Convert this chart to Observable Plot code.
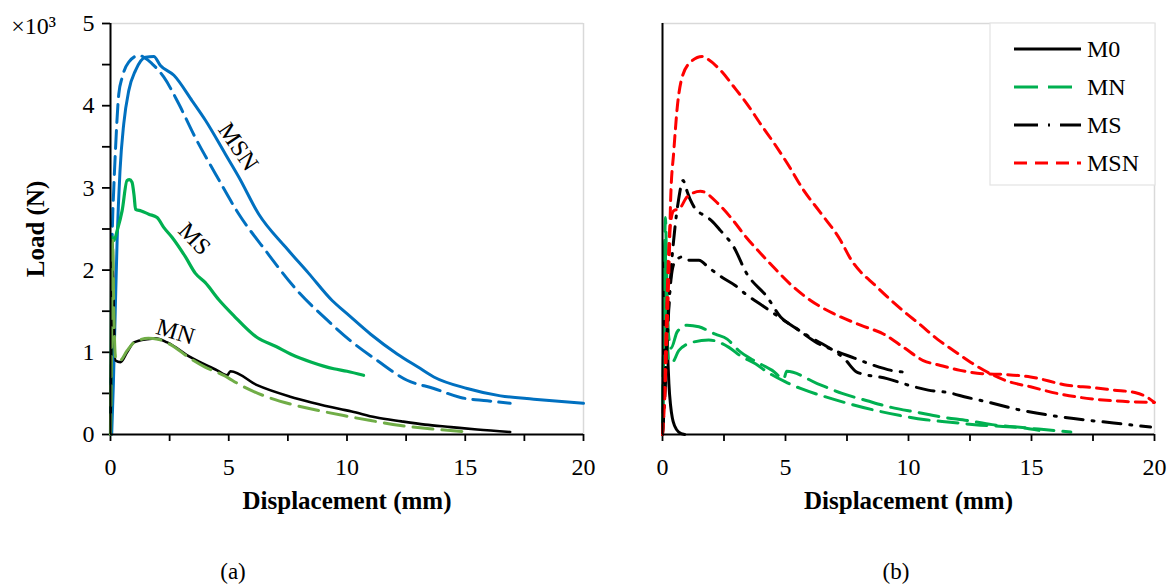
<!DOCTYPE html>
<html><head><meta charset="utf-8">
<script src="https://cdn.jsdelivr.net/npm/d3@7"></script>
<script src="https://cdn.jsdelivr.net/npm/@observablehq/plot@0.6"></script>
<style>
body{margin:0;background:#fff;}
#wrap{position:relative;width:1175px;height:586px;overflow:hidden;font-family:"Liberation Serif","Times New Roman",serif;color:#000;}
#wrap > svg{position:absolute;top:0;}
.cap{position:absolute;font-size:23px;transform:translate(-50%,-50%);white-space:nowrap;}
</style></head><body><div id="wrap"></div>
<script>
// ---------- data (displacement mm, load ×10^3 N) ----------
// panel (a)
const msnSolidX = [0.05,0.12,0.2,0.28,0.4,0.56,0.77,1.06,1.48,1.83,2.11,2.68,3.45,4.02,4.86,5.43,6.27,7.4,8.38,9.37,10.0,11.0,12.12,13.0,13.67,15.08,16.49,17.9,20];
const msnSolidY = [0,0.6,1.5,2.36,3.2,3.78,4.18,4.43,4.59,4.6,4.49,4.37,4.06,3.82,3.41,3.13,2.68,2.28,1.96,1.63,1.47,1.22,0.98,0.82,0.70,0.56,0.47,0.43,0.38];
const msnDashX = [0,0.04,0.07,0.14,0.21,0.35,0.5,0.77,1.2,1.76,2.25,2.89,3.59,4.44,5.43,6.55,7.96,9.02,10.15,11.28,12.54,13.67,14.8,15.93,16.9];
const msnDashY = [0,1.0,2.36,3.0,3.46,4.14,4.35,4.53,4.61,4.51,4.35,4.02,3.61,3.17,2.68,2.24,1.73,1.43,1.14,0.9,0.66,0.56,0.45,0.41,0.38];
const msX = [0,0.03,0.07,0.14,0.3,0.49,0.7,0.8,0.91,1.0,1.06,1.3,1.62,1.97,2.25,2.6,3.17,3.59,4.0,4.58,5.2,6.2,7.0,7.61,8.5,9.44,10.0,10.7];
const msY = [0,1.2,2.4,2.36,2.5,2.72,3.09,3.1,3.07,2.9,2.74,2.72,2.68,2.64,2.52,2.4,2.16,1.96,1.85,1.64,1.45,1.18,1.07,0.98,0.88,0.8,0.77,0.72];
const mnSolidX = [0,0.04,0.08,0.13,0.21,0.42,0.7,0.99,1.55,1.9,2.4,3.38,4.51,4.93,5.07,6.2,7.6,8.5,9.7,10.2,11.2,12.3,13.3,14.4,15.5,16.9];
const mnSolidY = [0,1.2,2.36,1.6,0.9,0.88,1.0,1.12,1.16,1.17,1.12,0.94,0.78,0.72,0.77,0.6,0.46,0.39,0.31,0.28,0.21,0.16,0.12,0.09,0.06,0.03];
const mnDashX = [0,0.04,0.09,0.14,0.22,0.4,0.7,1.0,1.6,2.0,2.5,3.4,4.0,4.79,5.5,6.5,7.61,8.5,9.86,11.0,12.26,13.5,15.2];
const mnDashY = [0,1.0,2.36,1.5,0.92,0.9,1.02,1.12,1.17,1.16,1.1,0.92,0.82,0.72,0.6,0.47,0.37,0.31,0.23,0.17,0.11,0.07,0.03];
// panel (b)
const m0X = [0,0.05,0.1,0.15,0.2,0.26,0.33,0.4,0.5,0.66,0.9];
const m0Y = [0,1.2,2.3,1.8,1.1,0.62,0.35,0.2,0.1,0.03,0];
const mnAX = [0,0.06,0.12,0.18,0.25,0.35,0.6,1.0,1.48,2.15,2.63,3.1,3.71,4.46,4.93,5.05,6.29,7.3,8.32,9.3,10.35,11.4,12.38,13.4,14.42,15.5,16.6];
const mnAY = [0,1.5,2.64,1.8,1.2,1.05,1.25,1.33,1.31,1.22,1.16,1.02,0.9,0.78,0.68,0.77,0.62,0.5,0.41,0.33,0.27,0.21,0.17,0.12,0.09,0.06,0.03];
const mnBX = [0,0.05,0.1,0.16,0.25,0.4,0.66,1.2,1.88,2.7,3.2,3.78,4.26,5.0,5.61,6.6,7.64,8.7,9.67,10.7,11.7,12.7,13.7,14.7,15.3];
const mnBY = [0,1.2,2.35,1.5,0.9,0.88,1.02,1.12,1.15,1.06,0.95,0.86,0.76,0.64,0.56,0.46,0.37,0.29,0.23,0.18,0.15,0.12,0.1,0.08,0.05];
const msAX = [0,0.1,0.2,0.35,0.5,0.65,0.84,0.95,1.14,1.4,1.61,2.0,2.36,2.9,3.4,4.26,4.8,5.4,6.2,7.0,7.8,8.5,9.3,9.8];
const msAY = [0,0.5,1.2,2.0,2.5,2.85,3.09,3.0,2.85,2.72,2.68,2.6,2.48,2.28,1.97,1.67,1.43,1.3,1.13,1.02,0.93,0.85,0.78,0.76];
const msBX = [0,0.1,0.2,0.35,0.5,0.8,1.1,1.48,1.88,2.43,2.97,3.37,4.1,4.93,6.02,6.8,7.4,7.9,9.13,10.0,10.8,11.6,12.4,13.0,14.5,16.3,18.34,19.84];
const msBY = [0,0.6,1.3,1.9,2.1,2.16,2.12,2.12,2.03,1.91,1.81,1.71,1.56,1.39,1.18,1.05,0.92,0.76,0.68,0.6,0.54,0.51,0.45,0.41,0.3,0.21,0.14,0.09];
const msnAX = [0,0.1,0.2,0.28,0.33,0.46,0.6,0.8,1.14,1.61,1.82,2.36,2.9,3.44,3.98,4.52,5.07,5.74,6.42,7.24,7.64,8.73,9.8,10.5,11.17,11.84,12.52,13.2,14.01,14.96,16.04,17.0,18.35,19.97];
const msnAY = [0,0.5,1.4,2.2,2.85,3.45,3.98,4.35,4.53,4.6,4.57,4.43,4.23,4.02,3.78,3.55,3.3,2.97,2.7,2.36,2.14,1.79,1.5,1.33,1.16,1.02,0.88,0.76,0.65,0.58,0.5,0.45,0.41,0.39];
const msnBX = [0,0.1,0.2,0.3,0.45,0.7,1.0,1.54,2.29,2.83,3.4,4.0,4.5,5.34,6.02,6.96,8.05,9.0,9.8,10.6,11.3,12.1,13.0,13.9,14.96,16.45,17.5,18.35,19.2,19.6,20];
const msnBY = [0,0.8,1.8,2.5,2.72,2.75,2.89,2.96,2.8,2.62,2.4,2.2,2.04,1.79,1.63,1.47,1.33,1.22,1.06,0.9,0.84,0.78,0.74,0.73,0.7,0.6,0.57,0.54,0.51,0.47,0.39];

// axes / labels
const xTicks = [0,2.5,5,7.5,10,12.5,15,17.5,20];
const yTicks = [0,0.5,1,1.5,2,2.5,3,3.5,4,4.5,5];
const legendNames = ["M0","MN","MS","MSN"];
const annotNames = ["MSN","MS","MN"];
const annotX = [5.4,3.55,2.75];
const annotY = [3.5,2.38,1.25];
const annotRot = [56,46,17];

// ---------- drawing ----------
const pts = (xs, ys) => xs.map((x, i) => ({x, y: ys[i]}));
const FONT = "Liberation Serif, Times New Roman, serif";
const wrap = document.getElementById("wrap");
const CURVE = "monotone-x";
const H = 535, MT = 23, MB = 101;
const innerH = H - MT - MB;            // px for 5 units

function frameMarks(showY, innerW) {
  const xTickLen = 7 * 5 / innerH;      // 7 px expressed in y units
  const yTickLen = 8 * 20 / innerW;     // 8 px expressed in x units
  const m = [
    Plot.ruleY([5], {stroke: "#d9d9d9", strokeWidth: 1.5}),
    Plot.ruleX([20], {stroke: "#d9d9d9", strokeWidth: 1.5}),
    Plot.ruleX(xTicks, {x: d => d, y1: 0, y2: -xTickLen, stroke: "#000", strokeWidth: 1.8}),
    Plot.axisX({ticks: xTicks, tickSize: 0, tickPadding: 23, fontSize: 24,
      tickFormat: d => d % 5 === 0 ? String(d) : "", label: null}),
    Plot.text(["Displacement (mm)"], {text: d => d, frameAnchor: "bottom", textAnchor: "middle", dy: 74, fontWeight: "bold", fontSize: 25})
  ];
  if (showY) {
    m.push(Plot.ruleY(yTicks, {y: d => d, x1: 0, x2: -yTickLen, stroke: "#000", strokeWidth: 1.8}));
    m.push(Plot.axisY({ticks: yTicks, tickSize: 0, tickPadding: 16, fontSize: 24,
      tickFormat: d => d % 1 === 0 ? String(d) : "", label: null}));
    m.push(Plot.text(["Load (N)"], {text: d => d, frameAnchor: "left", textAnchor: "middle", dx: -75, rotate: -90, fontWeight: "bold", fontSize: 25}));
    m.push(Plot.text(["×10³"], {text: d => d, frameAnchor: "top-left", textAnchor: "middle", lineAnchor: "middle", dx: -77, dy: 3, fontSize: 24}));
  }
  return m;
}
const axisLines = [
  Plot.ruleX([0], {stroke: "#000", strokeWidth: 2}),
  Plot.ruleY([0], {stroke: "#000", strokeWidth: 2})
];
const ln = (xs, ys, o) => Plot.line(pts(xs, ys), {x: "x", y: "y", curve: CURVE, strokeWidth: 3, ...o});

const LW = 620, LML = 110, LMR = 37;
const left = Plot.plot({
  width: LW, height: H, marginLeft: LML, marginRight: LMR, marginTop: MT, marginBottom: MB,
  x: {domain: [0, 20]}, y: {domain: [0, 5]},
  style: {fontFamily: FONT, fontSize: "24px", color: "#000", background: "transparent", overflow: "visible"},
  marks: [
    ...frameMarks(true, LW - LML - LMR),
    ln(msnDashX, msnDashY, {stroke: "#0070C0", strokeDasharray: "18,8"}),
    ln(msnSolidX, msnSolidY, {stroke: "#0070C0"}),
    ln(msX, msY, {stroke: "#00B050", strokeWidth: 3.2}),
    ln(mnSolidX, mnSolidY, {stroke: "#000", strokeWidth: 2.6}),
    ln(mnDashX, mnDashY, {stroke: "#70AD47", strokeDasharray: "20,9"}),
    ...axisLines,
    Plot.text(annotNames.map((t, i) => ({t, x: annotX[i], y: annotY[i], r: annotRot[i]})),
      {x: "x", y: "y", text: "t", rotate: "r", fontSize: 24})
  ]
});
left.style.left = "0px";
wrap.appendChild(left);

const RW = 555, RML = 42, RMR = 21;
const right = Plot.plot({
  width: RW, height: H, marginLeft: RML, marginRight: RMR, marginTop: MT, marginBottom: MB,
  x: {domain: [0, 20]}, y: {domain: [0, 5], axis: null},
  style: {fontFamily: FONT, fontSize: "24px", color: "#000", background: "transparent", overflow: "visible"},
  marks: [
    ...frameMarks(false, RW - RML - RMR),
    ln(m0X, m0Y, {stroke: "#000"}),
    ln(mnAX, mnAY, {stroke: "#00B050", strokeDasharray: "20,9"}),
    ln(mnBX, mnBY, {stroke: "#00B050", strokeDasharray: "20,9"}),
    ln(msAX, msAY, {stroke: "#000", strokeDasharray: "18,9,2,9"}),
    ln(msBX, msBY, {stroke: "#000", strokeDasharray: "18,9,2,9"}),
    ln(msnAX, msnAY, {stroke: "#FF0000", strokeDasharray: "11,7"}),
    ln(msnBX, msnBY, {stroke: "#FF0000", strokeDasharray: "11,7"}),
    ...axisLines
  ]
});
right.style.left = "620px";
wrap.appendChild(right);

// legend (b)
const legStyles = [
  {stroke: "#000", dash: null},
  {stroke: "#00B050", dash: "24,10"},
  {stroke: "#000", dash: "24,10,2,10"},
  {stroke: "#FF0000", dash: "13,8"}
];
const ns = "http://www.w3.org/2000/svg";
const leg = document.createElementNS(ns, "svg");
leg.setAttribute("width", 167); leg.setAttribute("height", 165);
leg.style.position = "absolute"; leg.style.left = "989px"; leg.style.top = "22px";
let html = `<rect x="1" y="1" width="165" height="162" fill="#fff" stroke="#e3e3e3" stroke-width="1.2"/>`;
legendNames.forEach((n, i) => {
  const y = 27 + i * 38;
  const s = legStyles[i];
  html += `<line x1="25" x2="92" y1="${y}" y2="${y}" stroke="${s.stroke}" stroke-width="3"${s.dash ? ` stroke-dasharray="${s.dash}"` : ""}/>`;
  html += `<text x="98" y="${y}" dy="0.35em" font-family="${FONT}" font-size="24">${n}</text>`;
});
leg.innerHTML = html;
wrap.appendChild(leg);

// captions
[["(a)", 233], ["(b)", 896]].forEach(([t, x]) => {
  const d = document.createElement("div");
  d.className = "cap"; d.textContent = t;
  d.style.left = x + "px"; d.style.top = "572px";
  wrap.appendChild(d);
});
</script></body></html>
